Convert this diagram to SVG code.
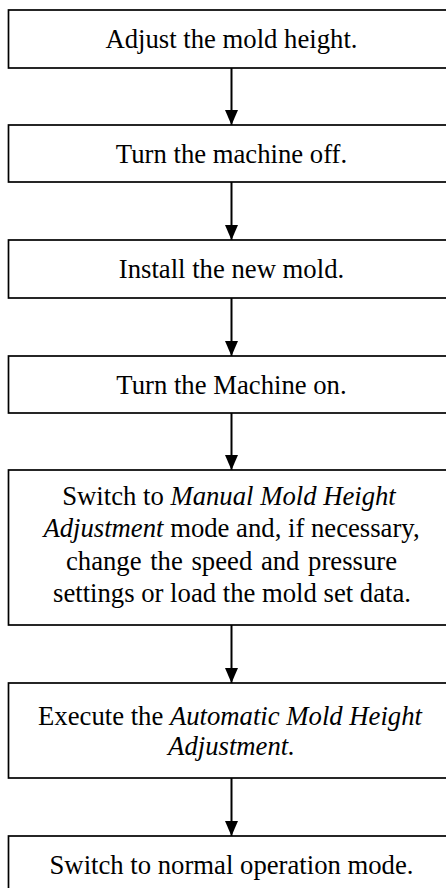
<svg xmlns="http://www.w3.org/2000/svg" width="446" height="888" viewBox="0 0 446 888">
  <style>
    .box { fill: #ffffff; stroke: #000000; stroke-width: 1.7; }
    .lbl { font-family: "Liberation Serif", "Times New Roman", serif; font-size: 26.7px; fill: #000000; text-anchor: middle; }
    .it { font-style: italic; }
    .wire { stroke: #000000; stroke-width: 2; fill: none; }
  </style>
  <defs>
    <marker id="arrow" markerWidth="13" markerHeight="15" refX="15" refY="6.5" orient="auto" markerUnits="userSpaceOnUse">
      <path d="M0,0 L15,6.5 L0,13 z" fill="#000000"/>
    </marker>
  </defs>
  <rect width="446" height="888" fill="#ffffff"/>

  <g id="step1">
    <rect class="box" x="8.5" y="10" width="446" height="58"/>
    <text class="lbl" x="231.5" y="48">Adjust the mold height.</text>
  </g>
  <g id="step2">
    <rect class="box" x="8.5" y="125" width="446" height="57"/>
    <text class="lbl" x="231.5" y="163">Turn the machine off.</text>
  </g>
  <g id="step3">
    <rect class="box" x="8.5" y="240" width="446" height="58"/>
    <text class="lbl" x="231.5" y="278">Install the new mold.</text>
  </g>
  <g id="step4">
    <rect class="box" x="8.5" y="356" width="446" height="57"/>
    <text class="lbl" x="231.5" y="394">Turn the Machine on.</text>
  </g>
  <g id="step5">
    <rect class="box" x="8.5" y="470" width="446" height="155"/>
    <text class="lbl" x="229" y="505">Switch to <tspan class="it">Manual Mold Height</tspan></text>
    <text class="lbl" x="231.5" y="537"><tspan class="it">Adjustment</tspan> mode and, if necessary,</text>
    <text class="lbl" x="231.5" y="570" word-spacing="2">change the speed and pressure</text>
    <text class="lbl" x="232" y="602">settings or load the mold set data.</text>
  </g>
  <g id="step6">
    <rect class="box" x="8.5" y="683" width="446" height="95"/>
    <text class="lbl" x="230" y="725">Execute the <tspan class="it">Automatic Mold Height</tspan></text>
    <text class="lbl it" x="231.5" y="755">Adjustment.</text>
  </g>
  <g id="step7">
    <rect class="box" x="8.5" y="836" width="446" height="70"/>
    <text class="lbl" x="231.5" y="874">Switch to normal operation mode.</text>
  </g>

  <g id="connectors">
    <line class="wire" x1="231.5" y1="68" x2="231.5" y2="125" marker-end="url(#arrow)"/>
    <line class="wire" x1="231.5" y1="182" x2="231.5" y2="240" marker-end="url(#arrow)"/>
    <line class="wire" x1="231.5" y1="298" x2="231.5" y2="356" marker-end="url(#arrow)"/>
    <line class="wire" x1="231.5" y1="413" x2="231.5" y2="470" marker-end="url(#arrow)"/>
    <line class="wire" x1="231.5" y1="625" x2="231.5" y2="683" marker-end="url(#arrow)"/>
    <line class="wire" x1="231.5" y1="778" x2="231.5" y2="836" marker-end="url(#arrow)"/>
  </g>
</svg>
